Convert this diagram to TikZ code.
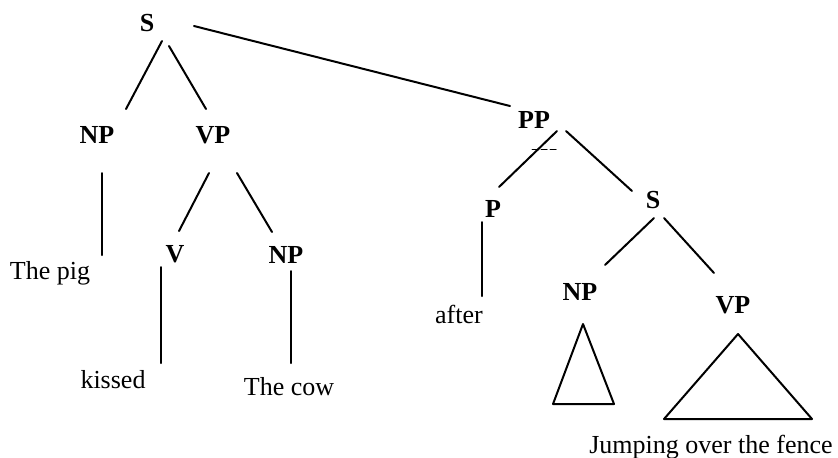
\documentclass[tikz,border=0pt]{standalone}
\usepackage{fontspec}
\setmainfont{Liberation Serif}
\usetikzlibrary{calc}
\begin{document}
\begin{tikzpicture}[
  x=0.5pt,
  y=-0.5pt,
  line cap=round,
  line join=round,
  every node/.style={font=\fontsize{13}{15}\selectfont, anchor=base, inner sep=0pt},
  cat/.style={font=\fontsize{13}{15}\selectfont\bfseries},
  branch/.style={line width=1pt}
]
  \useasboundingbox (0,0) rectangle (838,457);

  % Categories of the main clause
  \node[cat] (S)   at (147,31.5) {S};
  \node[cat] (NP)  at ( 97,143)  {NP};
  \node[cat] (VP)  at (213,143)  {VP};
  \node[cat] (V)   at (175,262)  {V};
  \node[cat] (NPo) at (286,263)  {NP};

  % Categories of the adjunct
  \node[cat] (PP)  at (534,128)  {PP};
  \node[cat] (P)   at (493,217)  {P};
  \node[cat] (Sa)  at (653,208)  {S};
  \node[cat] (NPa) at (580,300)  {NP};
  \node[cat] (VPa) at (733,313)  {VP};

  % Words
  \node (pig)     at ( 50,279) {The pig};
  \node (kissed)  at (113,388) {kissed};
  \node (cow)     at (289,395) {The cow};
  \node (after)   at (459,323) {after};
  \node (jumping) at (711,453) {Jumping over the fence};

  % Branches of the main clause
  \draw[branch] ($(S.base)+(15,9.5)$)   -- ($(NP.base)+(29,-34)$);
  \draw[branch] ($(S.base)+(22,14.5)$)  -- ($(VP.base)+(-7,-34)$);
  \draw[branch] ($(S.base)+(47,-5.5)$)  -- ($(PP.base)+(-24,-22)$);
  \draw[branch] ($(NP.base)+(5,30)$)    -- ($(pig.base)+(52,-24)$);
  \draw[branch] ($(VP.base)+(-4,30)$)   -- ($(V.base)+(4,-31)$);
  \draw[branch] ($(VP.base)+(24,30)$)   -- ($(NPo.base)+(-14,-31)$);
  \draw[branch] ($(V.base)+(-14,5)$)    -- ($(kissed.base)+(48,-25)$);
  \draw[branch] ($(NPo.base)+(5,8)$)    -- ($(cow.base)+(2,-32)$);

  % Branches of the adjunct
  \draw[branch] ($(PP.base)+(23,3)$)    -- ($(P.base)+(6,-30)$);
  \draw[branch] ($(PP.base)+(32,3)$)    -- ($(Sa.base)+(-21,-17)$);
  \draw[branch] ($(P.base)+(-11,5)$)    -- ($(after.base)+(23,-27)$);
  \draw[branch] ($(Sa.base)+(1,10)$)    -- ($(NPa.base)+(25,-35)$);
  \draw[branch] ($(Sa.base)+(11,10)$)   -- ($(VPa.base)+(-19,-40)$);

  % Stray dash under PP
  \draw[line width=0.5pt, dash pattern=on 3pt off 1.5pt]
    ($(PP.base)+(-2,21)$) -- ($(PP.base)+(23,21)$);

  % Triangles for unanalysed phrases
  \draw[branch] ($(NPa.base)+(3,24)$) -- ++(-30,80) -- ++(61,0) -- cycle;
  \draw[branch] ($(VPa.base)+(5,21)$) -- ++(-74,85) -- ++(148,0) -- cycle;
\end{tikzpicture}
\end{document}
